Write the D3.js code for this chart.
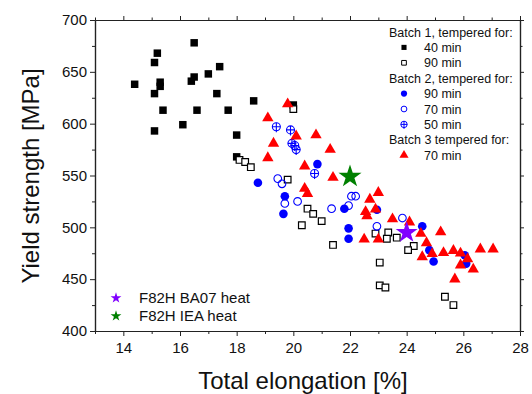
<!DOCTYPE html>
<html>
<head>
<meta charset="utf-8">
<script src="https://cdn.jsdelivr.net/npm/d3@7"></script>
<style>
  body { margin: 0; background: #fff; }
  svg { font-family: "Liberation Sans", Arial, sans-serif; }
</style>
</head>
<body>
<div id="viz"></div>
<script>
// data: [total elongation %, yield strength MPa]
var batch1_40 = [[16.5,678],[15.2,668],[15.1,659],[17.4,655],[17.0,648],[16.5,645],[16.4,641],
  [15.3,640],[15.3,636],[14.4,638],[15.1,629],[17.3,629],[18.6,622],[15.4,613],[16.6,613],
  [17.7,613],[16.1,599],[15.1,593],[18.0,589],[20.0,618],[18.0,568]]
var batch1_90 = [[20.0,614],[18.1,565],[18.3,563],[18.5,558],[19.8,546],[20.5,518],[20.7,513],
  [21.0,506],[20.3,502],[21.4,483],[22.9,494],[23.35,495],[23.3,489],[23.65,490],[24.25,482],
  [24.05,478],[23.05,466],[23.05,444],[23.25,442],[25.35,433],[25.65,425]]
var batch2_90 = [[18.75,543],[20.85,561],[19.7,530],[19.65,513],[21.95,499],[21.95,489],[21.8,518],
  [22.95,517],[24.55,501],[24.95,467],[24.8,478],[26.05,473],[26.1,465]]
var batch2_70 = [[19.45,547],[19.6,542],[19.7,523],[20.15,525],[21.35,518],[22.05,530],[22.2,530],
  [21.95,521],[22.95,501],[23.85,509]]
var batch2_50 = [[19.4,597],[19.9,594],[19.95,581],[20.05,579],[20.1,575],[20.75,552]]
var batch3_70 = [[19.8,619],[19.1,605.5],[20.1,588],[20.8,589],[19.3,581],[21.3,575],[19.1,567],
  [20.4,559],[21.4,548],[20.4,537.5],[20.5,532.5],[22.7,527],[23.0,533.5],[22.55,515],[22.9,517.5],
  [22.6,511],[23.5,508],[22.5,488.5],[23.0,488.5],[24.1,505],[24.5,494],[25.2,495.5],[24.7,485],
  [24.55,471.5],[24.9,474.5],[25.3,475.5],[25.65,477.5],[25.9,475],[26.15,469.5],[25.9,463.5],
  [26.35,459.5],[25.7,450],[26.6,479],[27.05,479]]
var ba07_heat = [[24.0,495]]
var iea_heat = [[22.0,549]]

var xTicks = [14,16,18,20,22,24,26,28]
var yTicks = [400,450,500,550,600,650,700]

var w = 532, h = 394

var svg = d3.select('#viz').append('svg')
  .attr('width', w).attr('height', h)

var x = d3.scaleLinear().domain([13, 28]).range([95, 520])
var y = d3.scaleLinear().domain([400, 700]).range([331, 20])

var xMinor = d3.range(13, 28, 2)
var yMinor = d3.range(425, 700, 50)

function styleAxis(g) {
  g.selectAll('path').attr('stroke', '#222').attr('stroke-width', 1.2)
  g.selectAll('line').attr('stroke', '#222').attr('stroke-width', 1)
  g.selectAll('text').attr('fill', '#111').style('font-size', '15px')
}

// bottom
svg.append('g').attr('transform', 'translate(0,331)')
  .call(d3.axisBottom(x).tickValues(xTicks).tickSize(5).tickSizeOuter(0).tickPadding(6).tickFormat(d3.format('d')))
  .call(styleAxis)
svg.append('g').attr('transform', 'translate(0,331)')
  .call(d3.axisBottom(x).tickValues(xMinor).tickSize(3).tickSizeOuter(0).tickFormat(''))
  .call(styleAxis)
// top
svg.append('g').attr('transform', 'translate(0,20)')
  .call(d3.axisTop(x).tickValues(xTicks).tickSize(4).tickSizeOuter(0).tickFormat(''))
  .call(styleAxis)
svg.append('g').attr('transform', 'translate(0,20)')
  .call(d3.axisTop(x).tickValues(xMinor).tickSize(2.5).tickSizeOuter(0).tickFormat(''))
  .call(styleAxis)
// left
svg.append('g').attr('transform', 'translate(95,0)')
  .call(d3.axisLeft(y).tickValues(yTicks).tickSize(5).tickSizeOuter(0).tickPadding(3))
  .call(styleAxis)
svg.append('g').attr('transform', 'translate(95,0)')
  .call(d3.axisLeft(y).tickValues(yMinor).tickSize(3).tickSizeOuter(0).tickFormat(''))
  .call(styleAxis)
// right
svg.append('g').attr('transform', 'translate(520,0)')
  .call(d3.axisRight(y).tickValues(yTicks).tickSize(4).tickSizeOuter(0).tickFormat(''))
  .call(styleAxis)
svg.append('g').attr('transform', 'translate(520,0)')
  .call(d3.axisRight(y).tickValues(yMinor).tickSize(2.5).tickSizeOuter(0).tickFormat(''))
  .call(styleAxis)

// axis titles
svg.append('text')
  .attr('x', 303).attr('y', 389)
  .attr('text-anchor', 'middle')
  .style('font-size', '24px').attr('fill', '#111')
  .text('Total elongation [%]')

svg.append('text')
  .attr('transform', 'translate(39,176) rotate(-90)')
  .attr('text-anchor', 'middle')
  .style('font-size', '24px').attr('fill', '#111')
  .text('Yield strength [MPa]')

var sym = d3.symbol()

function drawSeries(data, type, size, fill, stroke, sw) {
  svg.append('g').selectAll('path')
    .data(data)
    .enter()
    .append('path')
    .attr('transform', d => 'translate(' + x(d[0]) + ',' + y(d[1]) + ')')
    .attr('d', sym.type(type).size(size)())
    .attr('fill', fill)
    .attr('stroke', stroke)
    .attr('stroke-width', sw)
}

function drawCrossed(data, r) {
  var g = svg.append('g').selectAll('g')
    .data(data)
    .enter()
    .append('g')
    .attr('transform', d => 'translate(' + x(d[0]) + ',' + y(d[1]) + ')')
  g.append('circle').attr('r', r).attr('fill', 'none').attr('stroke', '#0000ff').attr('stroke-width', 1.1)
  g.append('path').attr('d', 'M' + (-r) + ',0H' + r + 'M0,' + (-r) + 'V' + (r + 1.5))
    .attr('stroke', '#0000ff').attr('stroke-width', 1.1)
}

drawSeries(batch1_40, d3.symbolSquare, 56, '#000', 'none', 0)
drawSeries(batch1_90, d3.symbolSquare, 44, '#fff', '#000', 1.2)
drawSeries(batch2_90, d3.symbolCircle, 58, '#0000ff', 'none', 0)
drawSeries(batch2_70, d3.symbolCircle, 46, 'none', '#0000ff', 1.1)
drawCrossed(batch2_50, 4)
drawSeries(batch3_70, d3.symbolTriangle, 56, '#ff0000', 'none', 0)
drawSeries(ba07_heat, d3.symbolStar, 150, '#8000ff', 'none', 0)
drawSeries(iea_heat, d3.symbolStar, 165, '#008000', 'none', 0)

// legend, top right
var legRows = [
  {label: 'Batch 1, tempered for:'},
  {label: '40 min', type: d3.symbolSquare, size: 26, fill: '#000', stroke: 'none'},
  {label: '90 min', type: d3.symbolSquare, size: 22, fill: '#fff', stroke: '#000'},
  {label: 'Batch 2, tempered for:'},
  {label: '90 min', type: d3.symbolCircle, size: 30, fill: '#0000ff', stroke: 'none'},
  {label: '70 min', type: d3.symbolCircle, size: 26, fill: 'none', stroke: '#0000ff'},
  {label: '50 min', crossed: true},
  {label: 'Batch 3 tempered for:'},
  {label: '70 min', type: d3.symbolTriangle, size: 36, fill: '#ff0000', stroke: 'none'}
]

var leg = svg.append('g').selectAll('g')
  .data(legRows)
  .enter()
  .append('g')
  .attr('transform', (d, i) => 'translate(0,' + (32 + i * 15.4) + ')')

leg.append('text')
  .attr('x', d => d.type || d.crossed ? 424 : 389)
  .attr('y', 4.5)
  .style('font-size', '12.5px').attr('fill', '#111')
  .text(d => d.label)

leg.filter(d => d.type).append('path')
  .attr('transform', 'translate(404,0)')
  .attr('d', d => d3.symbol().type(d.type).size(d.size)())
  .attr('fill', d => d.fill)
  .attr('stroke', d => d.stroke)
  .attr('stroke-width', 1)

var cl = leg.filter(d => d.crossed)
cl.append('circle').attr('cx', 404).attr('r', 3.2).attr('fill', 'none').attr('stroke', '#0000ff').attr('stroke-width', 1)
cl.append('path').attr('d', 'M400.8,0H407.2M404,-3.2V4.5').attr('stroke', '#0000ff').attr('stroke-width', 1)

// legend, bottom left
var heatRows = [
  {label: 'F82H BA07 heat', fill: '#8000ff'},
  {label: 'F82H IEA heat', fill: '#008000'}
]
var hl = svg.append('g').selectAll('g')
  .data(heatRows)
  .enter()
  .append('g')
  .attr('transform', (d, i) => 'translate(0,' + (298 + i * 18) + ')')
hl.append('path')
  .attr('transform', 'translate(116,0)')
  .attr('d', d3.symbol().type(d3.symbolStar).size(36)())
  .attr('fill', d => d.fill)
hl.append('text')
  .attr('x', 139).attr('y', 5)
  .style('font-size', '15px').attr('fill', '#111')
  .text(d => d.label)
</script>
</body>
</html>
